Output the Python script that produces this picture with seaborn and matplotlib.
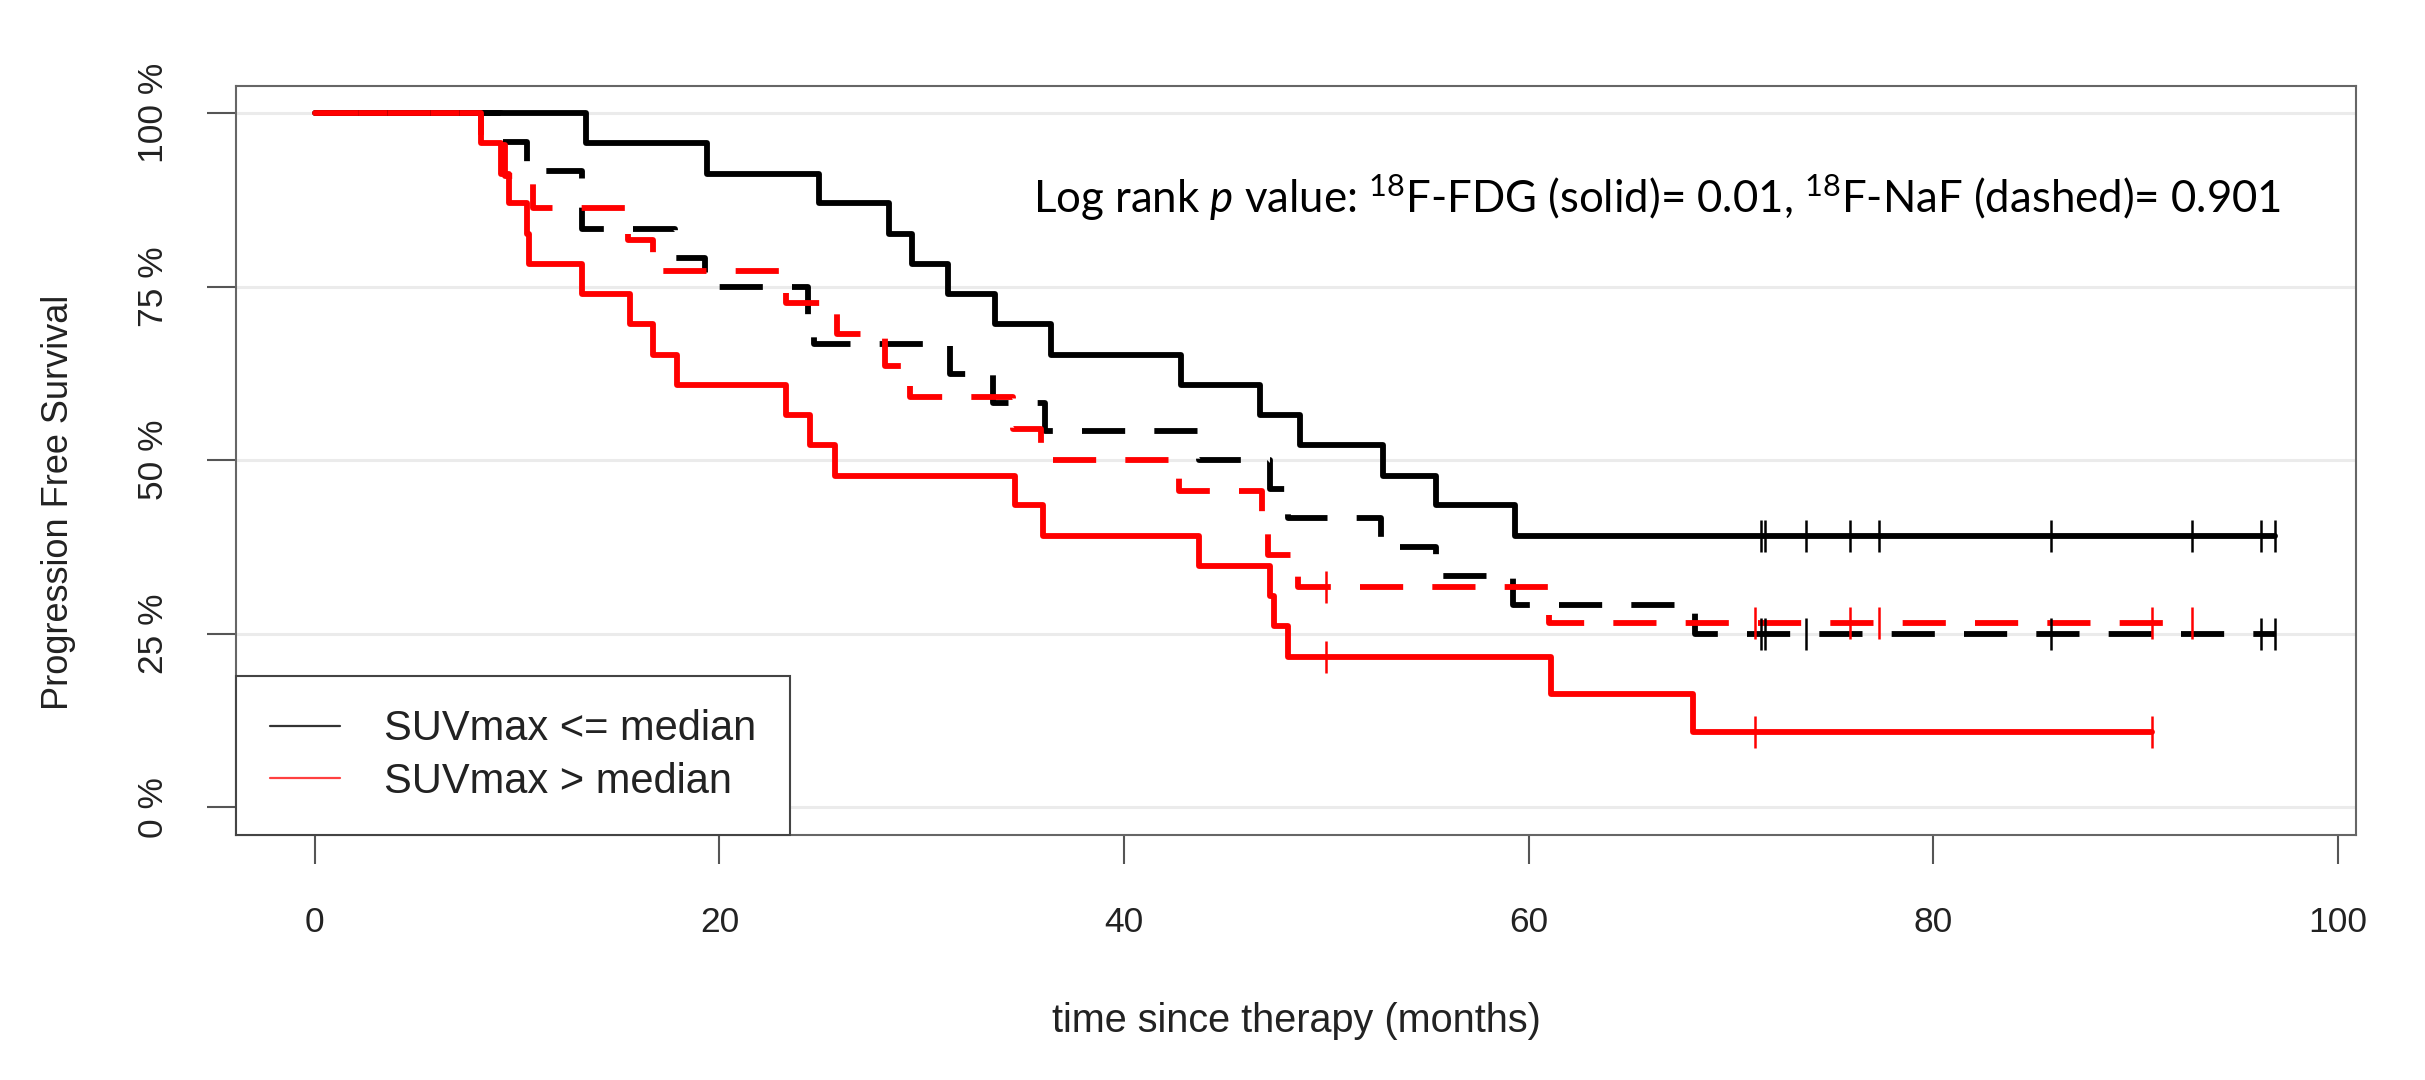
import numpy as np
import pandas as pd
import matplotlib
matplotlib.use('Agg')
import matplotlib.pyplot as plt
from matplotlib.lines import Line2D
import seaborn as sns

# Kaplan-Meier steps (time in months, survival in %)
fdg_low_t = [13.4, 19.4, 24.9, 28.4, 29.5, 31.3, 33.6, 36.4, 42.8, 46.7, 48.7, 52.8, 55.4, 59.3]
fdg_low_s = [95.7, 91.3, 87.0, 82.6, 78.3, 73.9, 69.6, 65.2, 60.9, 56.5, 52.2, 47.8, 43.5, 39.1]
fdg_low_cens = [71.5, 71.7, 73.7, 75.9, 77.3, 85.8, 92.8, 96.2, 96.9]

fdg_high_t = [8.2, 9.2, 9.6, 10.5, 10.6, 13.2, 15.6, 16.7, 17.9, 23.3, 24.5, 25.7, 34.6, 36.0,
              43.7, 47.2, 47.4, 48.1, 61.1, 68.1]
fdg_high_s = [95.7, 91.3, 87.0, 82.6, 78.3, 73.9, 69.6, 65.2, 60.9, 56.5, 52.2, 47.8, 43.5, 39.1,
              34.8, 30.4, 26.1, 21.7, 16.3, 10.9]
fdg_high_cens = [50.0, 71.2, 90.8]

naf_low_t = [9.2, 10.5, 13.2, 13.2, 17.8, 19.3, 24.4, 24.7, 31.4, 33.5, 36.1, 43.7, 47.2, 48.1,
             52.7, 55.4, 59.2, 68.2]
naf_low_s = [95.8, 91.7, 87.5, 83.3, 79.2, 75.0, 70.8, 66.7, 62.5, 58.3, 54.2, 50.0, 45.8, 41.7,
             37.5, 33.3, 29.2, 25.0]
naf_low_cens = [71.5, 71.7, 73.7, 85.8, 96.2, 96.9]

naf_high_t = [8.2, 9.4, 10.8, 15.5, 16.7, 23.3, 25.8, 28.2, 29.4, 34.5, 35.9, 42.7, 46.8, 47.1,
              48.6, 61.0]
naf_high_s = [95.5, 90.9, 86.4, 81.8, 77.3, 72.7, 68.2, 63.6, 59.1, 54.5, 50.0, 45.5, 40.9, 36.4,
              31.8, 26.5]
naf_high_cens = [50.0, 71.2, 75.9, 77.3, 90.8, 92.8]

x_ticks = [0, 20, 40, 60, 80, 100]
y_ticks = [0, 25, 50, 75, 100]
legend_labels = ['SUVmax <= median', 'SUVmax > median']

sns.set_theme(style='white')
plt.rcParams['font.family'] = ['Liberation Sans', 'DejaVu Sans']
plt.rcParams['mathtext.fontset'] = 'custom'
plt.rcParams['mathtext.rm'] = 'Lato'
plt.rcParams['mathtext.it'] = 'Lato:italic'

fig = plt.figure(figsize=(24.25, 10.8), dpi=100)
ax = fig.add_axes([0.0974, 0.2269, 0.8741, 0.6939])

for v in y_ticks:
    ax.axhline(v, color='#ebebeb', lw=2.2, zorder=0)


def km_curve(times, surv, cens, color, ls):
    x = [0] + times + [max(cens)]
    y = [100] + surv + [surv[-1]]
    df = pd.DataFrame({'time': x, 'pfs': y})
    sns.lineplot(data=df, x='time', y='pfs', estimator=None, sort=False,
                 drawstyle='steps-post', color=color, linewidth=4.2,
                 linestyle=ls, ax=ax, zorder=3)
    idx = np.searchsorted(times, cens, side='right') - 1
    lev = [surv[i] if i >= 0 else 100 for i in idx]
    sns.scatterplot(x=cens, y=lev, marker='|', s=23 ** 2, color=color,
                    linewidth=1.8, ax=ax, zorder=4)


dash = (0, (7.4, 5.0))
km_curve(fdg_low_t, fdg_low_s, fdg_low_cens, 'black', '-')
km_curve(fdg_high_t, fdg_high_s, fdg_high_cens, '#ff0000', '-')
km_curve(naf_low_t, naf_low_s, naf_low_cens, 'black', dash)
km_curve(naf_high_t, naf_high_s, naf_high_cens, '#ff0000', dash)

ax.set_xlim(-3.88, 100.88)
ax.set_ylim(-4, 104)
ax.set_xticks(x_ticks)
ax.set_xticklabels([str(v) for v in x_ticks])
ax.set_yticks(y_ticks)
ax.set_yticklabels([f'{v} %' for v in y_ticks], rotation=90, va='center')
ax.set_xlabel('')
ax.set_ylabel('')
ax.tick_params(bottom=True, left=True, direction='out', length=21, width=1.5,
               color='#555555', labelsize=25.5, labelcolor='#222222')
ax.tick_params(axis='x', pad=30)
ax.tick_params(axis='y', pad=27)
for sp in ax.spines.values():
    sp.set_color('#666666')
    sp.set_linewidth(1.5)

ax.text(35.5, 87.8,
        r'Log rank $\mathit{p}$ value: $^{18}$F-FDG (solid)= 0.01, $^{18}$F-NaF (dashed)= 0.901',
        fontsize=31.5, family='Lato', color='black', va='center', ha='left', zorder=5)

fig.text(0.5345, 0.0546, 'time since therapy (months)', fontsize=28.5,
         color='#222222', ha='center', va='center')
fig.text(0.0243, 0.535, 'Progression Free Survival', fontsize=26,
         color='#222222', ha='center', va='center', rotation=90)

handles = [Line2D([], [], color='#333333', lw=1.6),
           Line2D([], [], color='#ff4040', lw=1.6)]
leg = ax.legend(handles, legend_labels, loc='lower left', bbox_to_anchor=(0, 0),
                borderaxespad=0, fontsize=30, frameon=True, fancybox=False,
                edgecolor='#444444', framealpha=1, handlelength=1.7,
                handletextpad=1.05, borderpad=0.8, labelspacing=0.3)
leg.get_frame().set_linewidth(1.5)
for t in leg.get_texts():
    t.set_color('#222222')
leg.set_zorder(6)

fig.savefig('out.png', dpi=100)
